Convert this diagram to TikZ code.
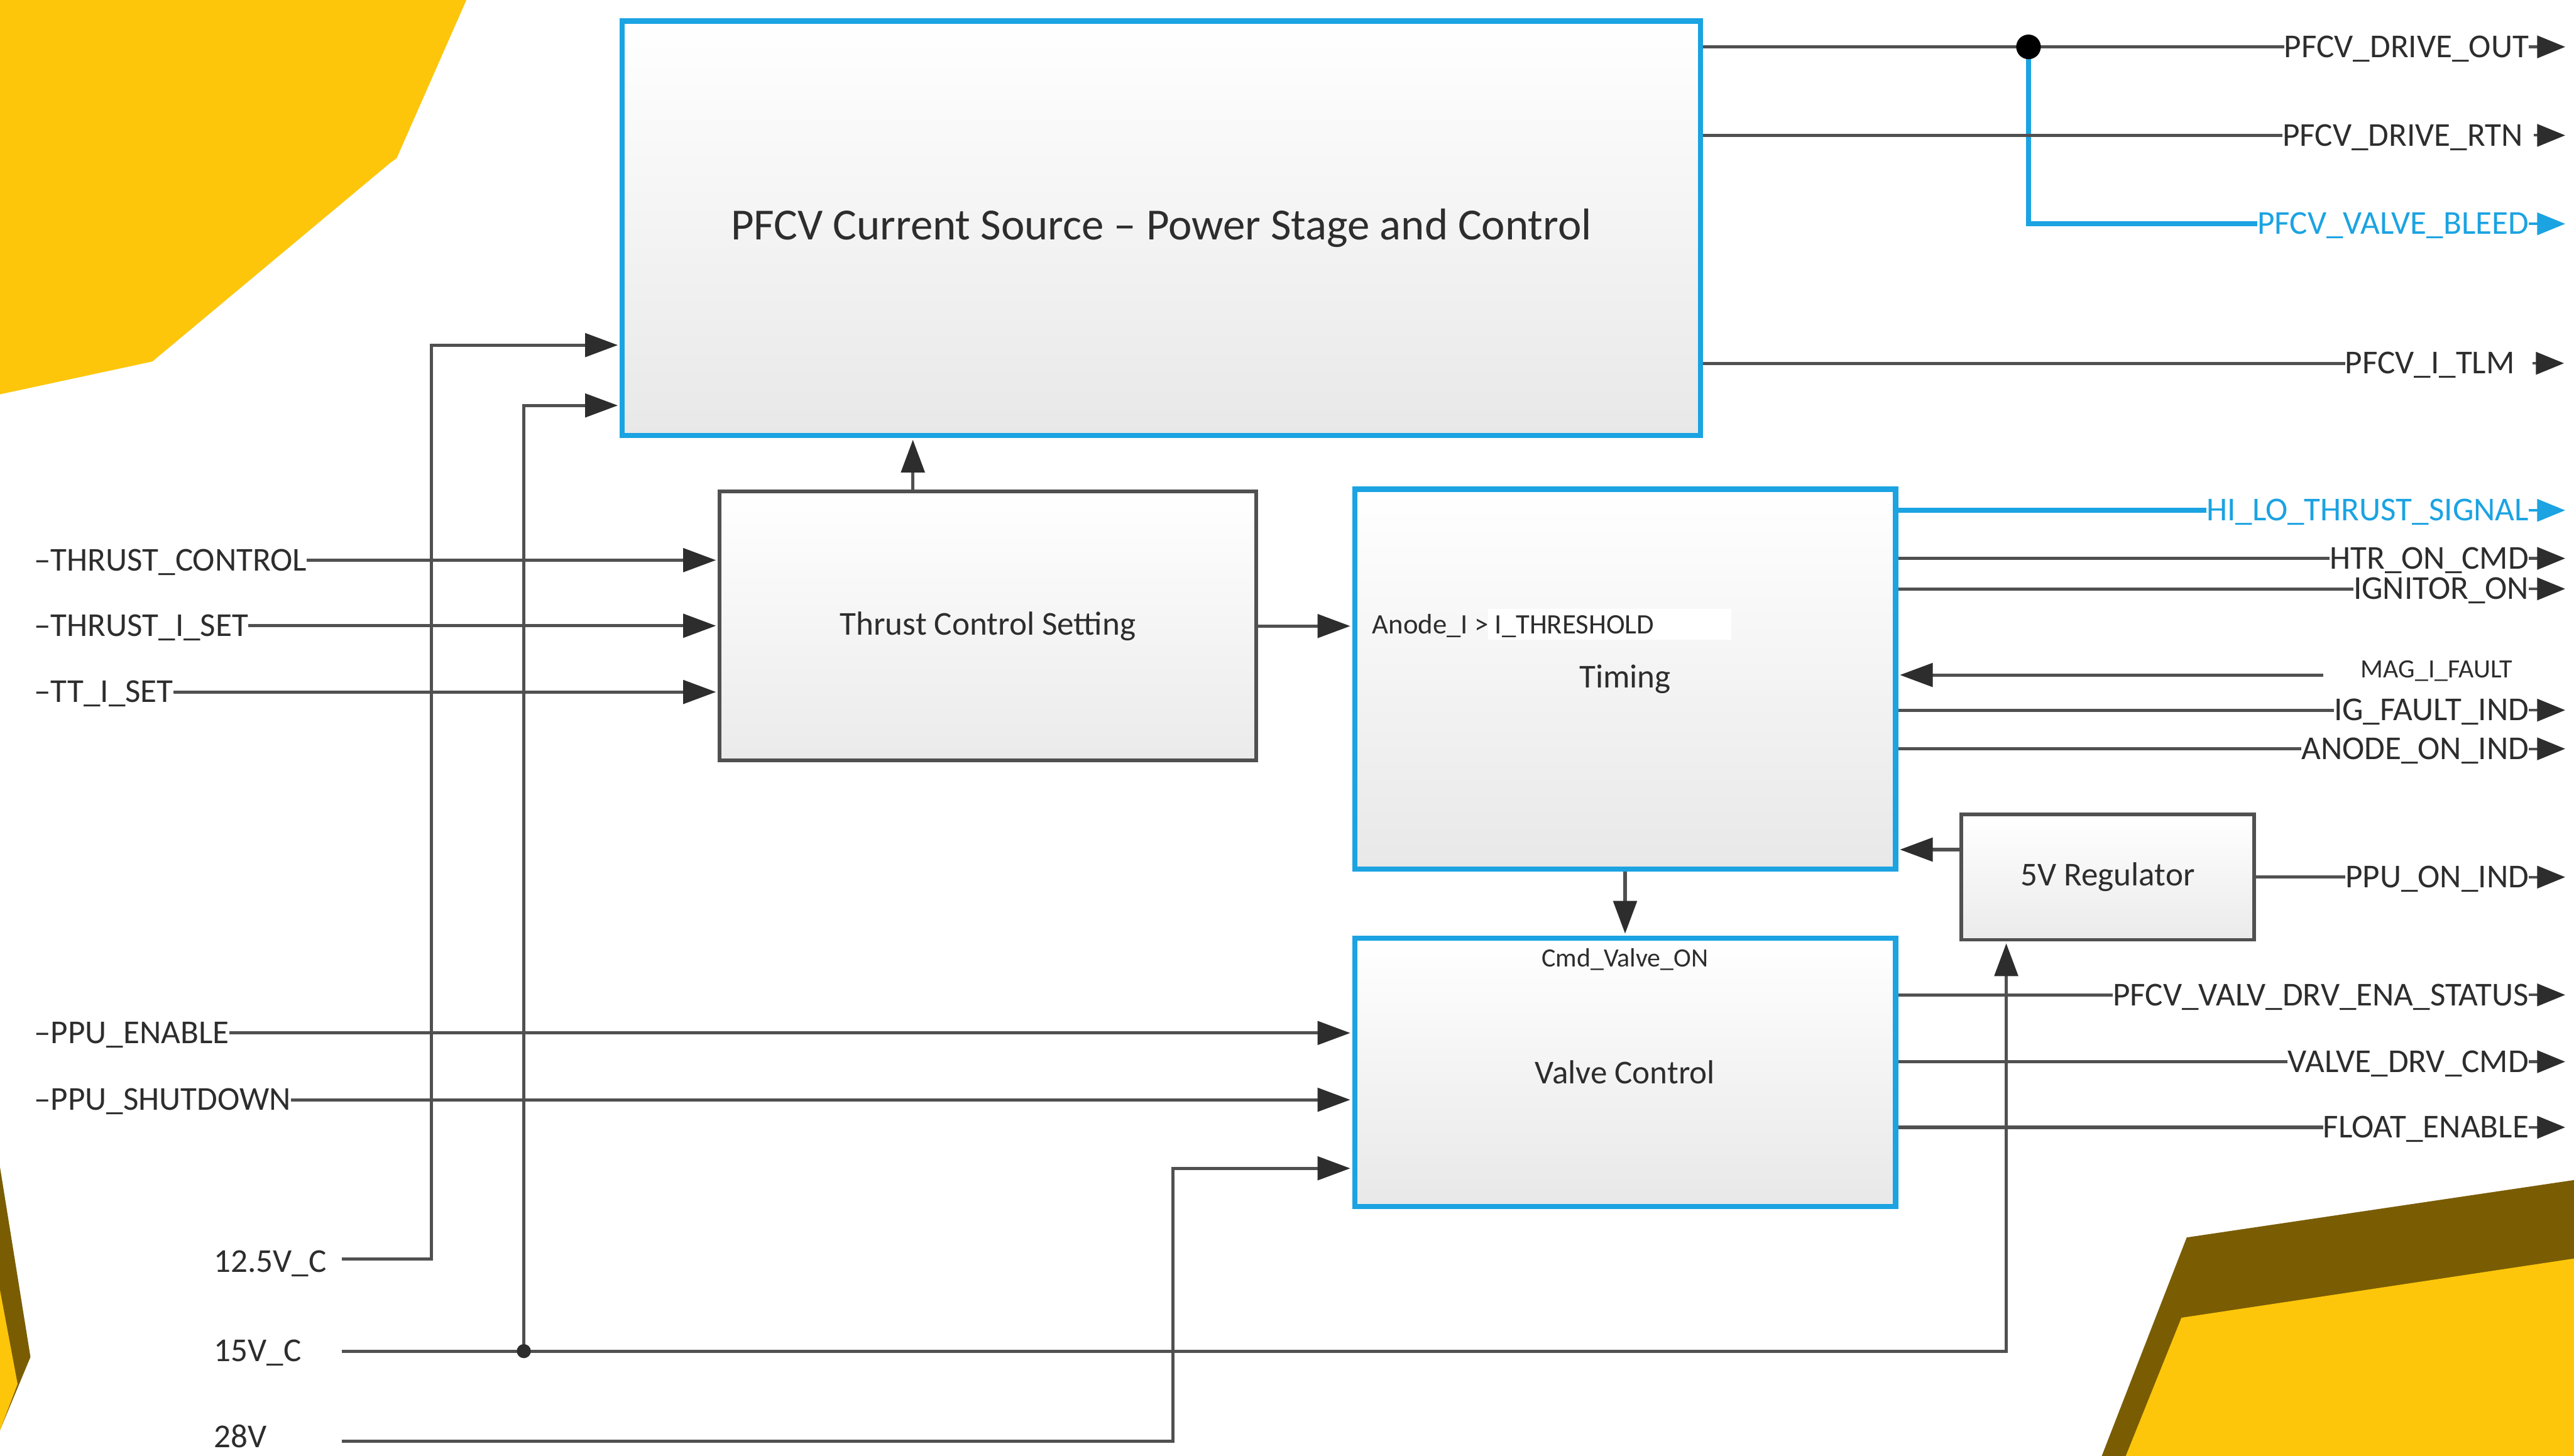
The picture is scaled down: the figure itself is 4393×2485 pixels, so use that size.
\documentclass[tikz,border=0pt]{standalone}
\usepackage{fontspec}
\setmainfont{Carlito}
\usetikzlibrary{arrows.meta}

\definecolor{hlblue}{RGB}{27,163,226}
\definecolor{wirecol}{RGB}{80,80,80}
\definecolor{ink}{RGB}{45,45,45}
\definecolor{gold}{RGB}{253,198,11}
\definecolor{bronze}{RGB}{122,93,3}

\begin{document}
\begin{tikzpicture}[x=1pt, y=-1pt,
  font=\fontsize{57}{64}\selectfont, text=ink,
  arrowed/.style={-{Triangle[length=56pt,width=40pt,color=ink]}, shorten >=3pt},
  wire/.style={draw=wirecol, line width=5.5pt},
  bluewire/.style={draw=hlblue, line width=9pt},
  block/.style={draw=hlblue, line width=9pt, top color=white, bottom color=black!9, inner sep=0pt},
  plainblock/.style={draw=wirecol, line width=6pt, top color=white, bottom color=black!8, inner sep=0pt},
  sig/.style={inner sep=0pt, text height=36pt, text depth=0pt},
  smallsig/.style={inner sep=0pt, font=\fontsize{45}{50}\selectfont},
  stub/.style={draw=wirecol, line width=4.5pt, -{Triangle[length=48pt,width=38pt,color=ink]}},
  bluestub/.style={draw=hlblue, line width=4.5pt, -{Triangle[length=48pt,width=38pt]}}
]
\useasboundingbox (0,0) rectangle (4393,2485);
\fill[white] (0,0) rectangle (4393,2485);

% decorative corner shapes
\fill[gold] (0,0) -- (796,0) -- (677,270) -- (666,278) -- (260,617) -- (0,673) -- cycle;
\fill[bronze] (0,1992) -- (52,2316) -- (0,2441) -- cycle;
\fill[gold] (0,2202) -- (30,2362) -- (0,2441) -- cycle;
\fill[bronze] (4393,2014) -- (3732,2112) -- (3587,2485) -- (4393,2485) -- cycle;
\fill[gold] (4393,2148) -- (3723,2249) -- (3628,2485) -- (4393,2485) -- cycle;

% blocks
\node[block, minimum width=1840pt, minimum height=707pt,
      font=\fontsize{76}{80}\selectfont] (main) at (1982,389.5)
      {PFCV Current Source – Power Stage and Control};
\node[plainblock, minimum width=916pt, minimum height=459pt] (tcs) at (1686,1068.5)
      {Thrust Control Setting};
\node[block, minimum width=923pt, minimum height=648pt] (timing) at (2773.5,1159)
      {\raisebox{-10pt}{Timing}};
\node[block, minimum width=923pt, minimum height=458pt] (valve) at (2773.5,1830)
      {Valve Control};
\node[plainblock, minimum width=500pt, minimum height=214pt] (reg) at (3597,1497)
      {5V Regulator};

% labels inside the blocks
\fill[white] (2540,1039) rectangle (2955,1092);
\node[anchor=west, inner sep=0pt, text height=30pt, text depth=0pt,
      font=\fontsize{48}{52}\selectfont] (thr) at (2342,1067) {Anode\_I > I\_THRESHOLD};
\node[smallsig] (cmdv) at (2773.5,1637) {Cmd\_Valve\_ON};

% left-hand inputs
\node[sig, anchor=west] (tctl) at (58,956)  {–THRUST\_CONTROL};
\node[sig, anchor=west] (tiset) at (58,1068) {–THRUST\_I\_SET};
\node[sig, anchor=west] (ttset) at (58,1181) {–TT\_I\_SET};
\node[sig, anchor=west] (ppuen) at (58,1763) {–PPU\_ENABLE};
\node[sig, anchor=west] (ppusd) at (58,1877) {–PPU\_SHUTDOWN};
\node[sig, anchor=west] (v125) at (365,2153) {12.5V\_C};
\node[sig, anchor=west] (v15)  at (365,2306) {15V\_C};
\node[sig, anchor=west] (v28)  at (365,2452) {28V};

\draw[wire, arrowed] (tctl.east)  -- (tctl.east -| tcs.west);
\draw[wire, arrowed] (tiset.east) -- (tiset.east -| tcs.west);
\draw[wire, arrowed] (ttset.east) -- (ttset.east -| tcs.west);
\draw[wire, arrowed] (ppuen.east) -- (ppuen.east -| valve.west);
\draw[wire, arrowed] (ppusd.east) -- (ppusd.east -| valve.west);

% supply rails
\coordinate (s125) at (583,2149);
\coordinate (b125) at (736,589);
\coordinate (s15)  at (583,2306);
\coordinate (j15)  at (894,2306);
\coordinate (b15)  at (894,692);
\coordinate (t15)  at (3424,2306);
\coordinate (s28)  at (583,2460);
\coordinate (t28)  at (2002,1994);

\draw[wire, arrowed] (s125) -| (b125) -- (b125 -| main.west);
\draw[wire, arrowed] (j15) -- (b15) -- (b15 -| main.west);
\draw[wire, arrowed] (s15) -- (t15) -- (t15 |- reg.south);
\draw[wire, arrowed] (s28) -| (t28) -- (t28 -| valve.west);
\fill[ink] (j15) circle (12);

% internal links
\draw[wire, arrowed] ([xshift=-128pt]tcs.north) -- ([xshift=-128pt]tcs.north |- main.south);
\draw[wire, arrowed] (tcs.east) -- (tcs.east -| timing.west);
\draw[wire, arrowed] (timing.south) -- (valve.north);
\draw[wire, arrowed] ([yshift=47pt]reg.west) -- ([yshift=47pt]reg.west -| timing.east);

% outputs of the power stage
\node[sig, anchor=east] (dout) at (4316,80) {PFCV\_DRIVE\_OUT};
\node[sig, anchor=east] (drtn) at (4306,231) {PFCV\_DRIVE\_RTN};
\node[sig, anchor=east, text=hlblue] (bleed) at (4316,382) {PFCV\_VALVE\_BLEED};
\node[sig, anchor=east] (itlm) at (4292,620) {PFCV\_I\_TLM};
\coordinate (j1) at (3462,80);

\draw[bluewire] (j1) |- (bleed.west);
\draw[wire] (dout.west -| main.east) -- (dout.west);
\draw[wire] (drtn.west -| main.east) -- (drtn.west);
\draw[wire] (itlm.west -| main.east) -- (itlm.west);
\fill[black] (j1) circle (21);

\draw[stub] (dout.east) -- ([xshift=62pt]dout.east);
\draw[stub] ([xshift=18pt]drtn.east) -- ([xshift=72pt]drtn.east);
\draw[bluestub] (bleed.east) -- ([xshift=62pt]bleed.east);
\draw[stub] ([xshift=30pt]itlm.east) -- ([xshift=84pt]itlm.east);

% timing outputs and inputs
\node[sig, anchor=east, text=hlblue] (hilo) at (4316,871) {HI\_LO\_THRUST\_SIGNAL};
\node[sig, anchor=east] (htr)  at (4316,953)  {HTR\_ON\_CMD};
\node[sig, anchor=east] (ign)  at (4316,1005) {IGNITOR\_ON};
\node[smallsig, anchor=west] (magf) at (4029,1145) {MAG\_I\_FAULT};
\node[sig, anchor=east] (igf)  at (4316,1212) {IG\_FAULT\_IND};
\node[sig, anchor=east] (anod) at (4316,1278) {ANODE\_ON\_IND};
\coordinate (magin) at (3965,1152);

\draw[bluewire] (hilo.west -| timing.east) -- (hilo.west);
\draw[wire] (htr.west -| timing.east) -- (htr.west);
\draw[wire] (ign.west -| timing.east) -- (ign.west);
\draw[wire, arrowed] (magin) -- (magin -| timing.east);
\draw[wire] (igf.west -| timing.east) -- (igf.west);
\draw[wire] (anod.west -| timing.east) -- (anod.west);

\draw[bluestub] (hilo.east) -- ([xshift=62pt]hilo.east);
\draw[stub] (htr.east) -- ([xshift=62pt]htr.east);
\draw[stub] (ign.east) -- ([xshift=62pt]ign.east);
\draw[stub] (igf.east) -- ([xshift=62pt]igf.east);
\draw[stub] (anod.east) -- ([xshift=62pt]anod.east);

% regulator and valve outputs
\node[sig, anchor=east] (ppuon) at (4316,1497) {PPU\_ON\_IND};
\node[sig, anchor=east] (vstat) at (4316,1698) {PFCV\_VALV\_DRV\_ENA\_STATUS};
\node[sig, anchor=east] (vdrv)  at (4316,1812) {VALVE\_DRV\_CMD};
\node[sig, anchor=east] (flen)  at (4316,1924) {FLOAT\_ENABLE};

\draw[wire] (reg.east) -- (ppuon.west);
\draw[wire] (vstat.west -| valve.east) -- (vstat.west);
\draw[wire] (vdrv.west -| valve.east) -- (vdrv.west);
\draw[wire] (flen.west -| valve.east) -- (flen.west);

\draw[stub] (ppuon.east) -- ([xshift=62pt]ppuon.east);
\draw[stub] (vstat.east) -- ([xshift=62pt]vstat.east);
\draw[stub] (vdrv.east) -- ([xshift=62pt]vdrv.east);
\draw[stub] (flen.east) -- ([xshift=62pt]flen.east);
\end{tikzpicture}
\end{document}
